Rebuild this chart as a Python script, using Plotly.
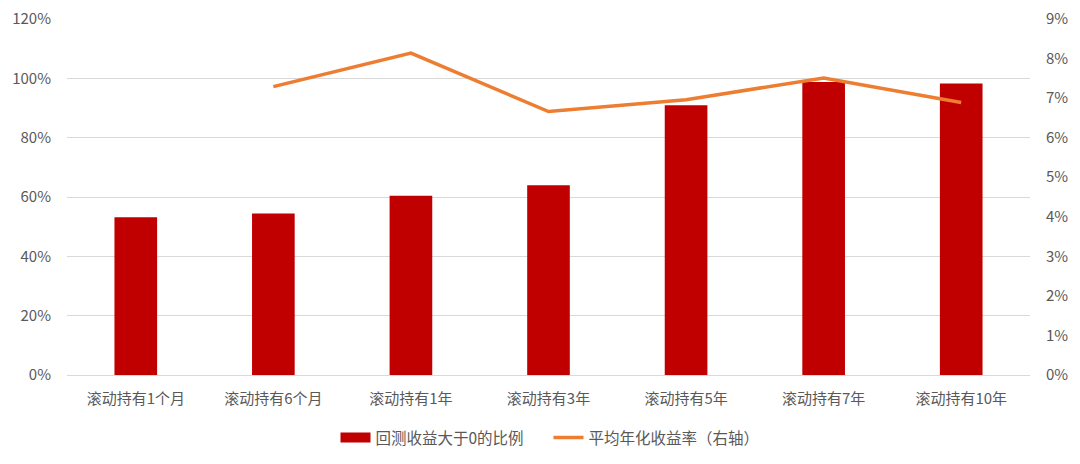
import plotly.graph_objects as go

categories = ["滚动持有1个月", "滚动持有6个月", "滚动持有1年", "滚动持有3年", "滚动持有5年", "滚动持有7年", "滚动持有10年"]
positive_ratio = [0.532, 0.544, 0.604, 0.640, 0.909, 0.988, 0.983]
avg_annual_return = [None, 0.0729, 0.0814, 0.0666, 0.0696, 0.0751, 0.0689]
left_ticks = [0, 0.2, 0.4, 0.6, 0.8, 1.0, 1.2]
right_ticks = [0, 0.01, 0.02, 0.03, 0.04, 0.05, 0.06, 0.07, 0.08, 0.09]

font_family = "Noto Sans CJK SC, Microsoft YaHei, sans-serif"
gray = "#595959"
bar_color = "#C00000"
line_color = "#ED7D31"

fig = go.Figure()
fig.add_trace(go.Bar(
    x=categories, y=positive_ratio, name="回测收益大于0的比例",
    marker=dict(color=bar_color, line=dict(width=0)), yaxis="y",
    showlegend=False,
))
# legend-only entry to give the bar series a wide rectangular swatch
fig.add_trace(go.Scatter(
    x=[None], y=[None], name="回测收益大于0的比例", mode="lines",
    line=dict(color=bar_color, width=10), yaxis="y", hoverinfo="skip",
))
fig.add_trace(go.Scatter(
    x=categories, y=avg_annual_return, name="平均年化收益率（右轴）",
    mode="lines", line=dict(color=line_color, width=3.5), yaxis="y2",
    connectgaps=False,
))

fig.update_layout(
    width=1080, height=464,
    margin=dict(l=67, r=50, t=19, b=89, autoexpand=False),
    paper_bgcolor="white", plot_bgcolor="white",
    font=dict(family=font_family, size=15, color=gray),
    bargap=0.69,
    showlegend=True,
    legend=dict(orientation="h", x=0.5, xanchor="center",
                yref="container", y=0.056, yanchor="middle",
                font=dict(size=15.5, color=gray), tracegroupgap=0,
                entrywidth=168, entrywidthmode="pixels"),
    xaxis=dict(showgrid=False, showline=True, linecolor="#D9D9D9", linewidth=1,
               ticks="", tickfont=dict(size=15, color=gray), ticklabelstandoff=10),
    yaxis=dict(range=[0, 1.2], tickvals=left_ticks, tickformat=".0%",
               showgrid=True, gridcolor="#D9D9D9", gridwidth=1, zeroline=False,
               ticks="", tickfont=dict(size=15, color=gray), ticklabelstandoff=15),
    yaxis2=dict(range=[0, 0.09], tickvals=right_ticks, tickformat=".0%",
                overlaying="y", side="right", showgrid=False, zeroline=False,
                ticks="", tickfont=dict(size=15, color=gray), ticklabelstandoff=15),
)

fig.write_html("out.html", config={"displayModeBar": False},
               post_script="document.body.style.margin='0';")
